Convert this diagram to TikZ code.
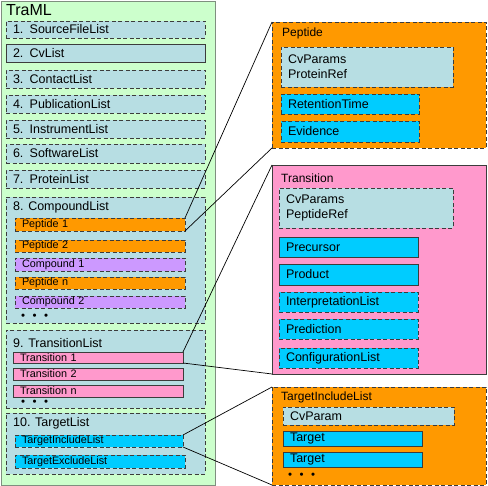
\documentclass[tikz,border=0pt]{standalone}
\usepackage{fontspec}
\setmainfont{Liberation Sans}
\definecolor{cgreen}{HTML}{CCFFCC}
\definecolor{cblue}{HTML}{B7DEE3}
\definecolor{corange}{HTML}{FF9900}
\definecolor{cpurple}{HTML}{CC99FF}
\definecolor{cpink}{HTML}{FF99CC}
\definecolor{ccyan}{HTML}{00CCFF}
\definecolor{cborder}{HTML}{3C3C3C}
\definecolor{couter}{HTML}{7F8F7F}
\newcommand{\mkbox}[7]{\pgfmathsetmacro{\mytw}{#4-14}\node[#6, minimum width=#4pt, minimum height=#5pt, text width=\mytw pt] (#1) at (#2,#3) {#7};}
\tikzset{
  base/.style={draw=cborder, line width=0.8pt, anchor=north west, outer sep=0pt, inner xsep=7pt, inner ysep=0pt, align=left},
  dsh/.style={dash pattern=on 4pt off 2.5pt},
  big/.style={font=\fontsize{12.5}{15}\selectfont},
  small/.style={font=\fontsize{10.8}{12}\selectfont},
  listbox/.style={base, big, fill=cblue},
  pepbox/.style={base, small, dsh, fill=corange},
  cmpbox/.style={base, small, dsh, fill=cpurple},
  trbox/.style={base, small, fill=cpink},
  tgbox/.style={base, small, dsh, fill=ccyan},
  cybox/.style={base, big, fill=ccyan},
  ttl/.style={anchor=west, inner sep=0pt, big},
  dots/.style={anchor=west, inner sep=0pt, font=\fontsize{11.5}{11.5}\selectfont},
  conn/.style={draw=black, line width=0.7pt}
}
\begin{document}
\begin{tikzpicture}[x=1pt,y=-1pt]
\useasboundingbox (0,0) rectangle (488,486);
% TraML container
\node[draw=couter, fill=cgreen, line width=0.9pt, anchor=north west, outer sep=0pt, minimum width=214pt, minimum height=484pt, inner sep=0pt] (traml) at (1,1) {};
\node[anchor=west, inner sep=0pt, font=\fontsize{16}{18}\selectfont] (tramlt) at (6,10) {TraML};
\mkbox{l1}{6}{21}{199}{17}{listbox, dsh}{1. SourceFileList}
\mkbox{l2}{6}{44}{199}{18}{listbox}{2. CvList}
\mkbox{l3}{6}{70}{199}{18}{listbox, dsh}{3. ContactList}
\mkbox{l4}{6}{95}{199}{18}{listbox, dsh}{4. PublicationList}
\mkbox{l5}{6}{120}{199}{18}{listbox, dsh}{5. InstrumentList}
\mkbox{l6}{6}{144}{199}{19}{listbox, dsh}{6. SoftwareList}
\mkbox{l7}{6}{170}{199}{18}{listbox, dsh}{7. ProteinList}
% 8
\mkbox{l8}{6}{197}{199}{126}{listbox, dsh}{}
\node[ttl] (l8t) at (13,207) {8. CompoundList};
\mkbox{pep1}{15}{218}{170}{13}{pepbox}{Peptide 1}
\mkbox{pep2}{15}{240}{170}{12}{pepbox}{Peptide 2}
\mkbox{cmp1}{15}{258}{170}{13}{cmpbox}{Compound 1}
\mkbox{pepn}{15}{277}{170}{12}{pepbox}{Peptide n}
\mkbox{cmp2}{15}{296}{170}{12}{cmpbox}{Compound 2}
\node[dots] (d8) at (21,317) {•\hspace{7.5pt}•\hspace{7.5pt}•};
% 9
\mkbox{l9}{6}{330}{199}{78}{listbox, dsh}{}
\node[ttl] (l9t) at (13,343) {9. TransitionList};
\mkbox{tr1}{13}{352}{170}{11}{trbox}{Transition 1}
\mkbox{tr2}{13}{368}{170}{12}{trbox}{Transition 2}
\mkbox{trn}{13}{385}{170}{12}{trbox}{Transition n}
\node[dots] (d9) at (21,403) {•\hspace{7.5pt}•\hspace{7.5pt}•};
% 10
\mkbox{l10}{6}{413}{199}{61}{listbox, dsh}{}
\node[ttl] (l10t) at (13,423) {10. TargetList};
\mkbox{ti}{15}{435}{168}{12}{tgbox}{TargetIncludeList}
\mkbox{te}{15}{455}{170}{13}{tgbox}{TargetExcludeList}
% Peptide panel
\mkbox{pp}{272}{22}{214}{126}{base, dsh, fill=corange}{}
\node[ttl, font=\fontsize{12}{14}\selectfont] (ppt) at (282,33) {Peptide};
\mkbox{pcv}{281}{47}{172}{40}{listbox, dsh}{CvParams\\ProteinRef}
\mkbox{prt}{281}{94}{138}{20}{cybox, dsh}{RetentionTime}
\mkbox{pev}{281}{121}{138}{21}{cybox, dsh}{Evidence}
% Transition panel
\mkbox{tp}{272}{165}{214}{209}{base, fill=cpink}{}
\node[ttl, font=\fontsize{12}{14}\selectfont] (tpt) at (281,178) {Transition};
\mkbox{tcv}{279}{188}{174}{40}{listbox, dsh}{CvParams\\PeptideRef}
\mkbox{tpre}{279}{237}{139}{20}{cybox}{Precursor}
\mkbox{tpro}{279}{264}{139}{21}{cybox}{Product}
\mkbox{tint}{279}{292}{139}{20}{cybox, dsh}{InterpretationList}
\mkbox{tpred}{279}{319}{139}{20}{cybox, dsh}{Prediction}
\mkbox{tconf}{279}{348}{139}{20}{cybox, dsh}{ConfigurationList}
% TargetIncludeList panel
\mkbox{ip}{272}{387}{214}{98}{base, dsh, fill=corange}{}
\node[ttl, font=\fontsize{12}{14}\selectfont] (ipt) at (281,397) {TargetIncludeList};
\mkbox{icv}{283}{407}{171}{18}{listbox, dsh}{CvParam}
\mkbox{it1}{283}{431}{139}{15}{cybox}{Target}
\mkbox{it2}{283}{452}{139}{15}{cybox}{Target}
\node[dots] (dip) at (288,476) {•\hspace{7.5pt}•\hspace{7.5pt}•};
% connectors
\draw[conn] (pep1.north east) -- (pp.north west);
\draw[conn] (pep1.south east) -- (pp.south west);
\draw[conn] (tr1.north east) -- (tp.north west);
\draw[conn] (tr1.south east) -- (tp.south west);
\draw[conn] (ti.north east) -- (ip.north west);
\draw[conn] (ti.south east) -- (ip.south west);
\end{tikzpicture}
\end{document}
